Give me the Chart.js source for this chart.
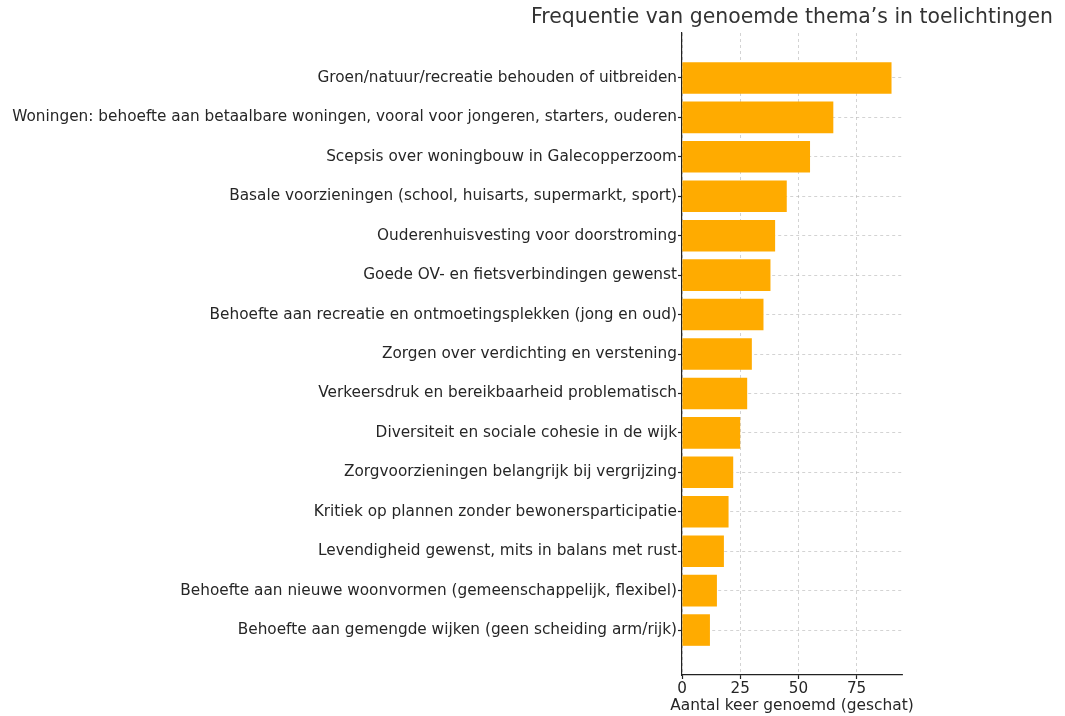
<!DOCTYPE html>
<html>
<head>
<meta charset="utf-8">
<script src="https://cdn.jsdelivr.net/npm/chart.js@4"></script>
<style>
  html, body { margin: 0; padding: 0; background: #fff; }
  #c { display: block; }
</style>
</head>
<body>
<canvas id="c" width="1065" height="716"></canvas>
<script>
// Thema's uit de toelichtingen, geschat aantal keer genoemd
const themas = [
  "Groen/natuur/recreatie behouden of uitbreiden",
  "Woningen: behoefte aan betaalbare woningen, vooral voor jongeren, starters, ouderen",
  "Scepsis over woningbouw in Galecopperzoom",
  "Basale voorzieningen (school, huisarts, supermarkt, sport)",
  "Ouderenhuisvesting voor doorstroming",
  "Goede OV- en fietsverbindingen gewenst",
  "Behoefte aan recreatie en ontmoetingsplekken (jong en oud)",
  "Zorgen over verdichting en verstening",
  "Verkeersdruk en bereikbaarheid problematisch",
  "Diversiteit en sociale cohesie in de wijk",
  "Zorgvoorzieningen belangrijk bij vergrijzing",
  "Kritiek op plannen zonder bewonersparticipatie",
  "Levendigheid gewenst, mits in balans met rust",
  "Behoefte aan nieuwe woonvormen (gemeenschappelijk, flexibel)",
  "Behoefte aan gemengde wijken (geen scheiding arm/rijk)",
];
const aantallen = [90, 65, 55, 45, 40, 38, 35, 30, 28, 25, 22, 20, 18, 15, 12];
const xTicks = [0, 25, 50, 75];

const TITEL = "Frequentie van genoemde thema\u2019s in toelichtingen";
const X_TITEL = "Aantal keer genoemd (geschat)";
const ORANJE = "#ffab00";
const TEKST = "#262626";
const GRID = "rgba(176,176,176,0.7)";
const FONT = "'DejaVu Sans', sans-serif";

// titel en x-label gecentreerd op het plotgebied (zoals matplotlib),
// zelf getekend zodat Chart.js de tekst niet samendrukt
const tekstPlugin = {
  id: "teksten",
  afterDraw(chart) {
    const { ctx, chartArea } = chart;
    const midden = (chartArea.left + chartArea.right) / 2;
    ctx.save();
    ctx.textAlign = "center";
    ctx.textBaseline = "middle";
    ctx.font = "20.4px " + FONT;
    ctx.fillStyle = "#333";
    ctx.fillText(TITEL, midden, 18);
    ctx.font = "15.4px " + FONT;
    ctx.fillStyle = TEKST;
    ctx.fillText(X_TITEL, midden, 706);
    ctx.restore();
  },
};

const gridOpts = {
  color: GRID,
  lineWidth: 0.8,
  offset: false,
  tickColor: "#222",
  tickLength: 4,
  tickWidth: 1.2,
  tickBorderDash: [],
};

new Chart(document.getElementById("c"), {
  type: "bar",
  data: {
    datasets: [
      {
        data: aantallen.map((v, i) => ({ x: v, y: i })),
        backgroundColor: ORANJE,
        borderWidth: 0,
        barPercentage: 0.8,
        categoryPercentage: 1.0,
      },
    ],
  },
  plugins: [tekstPlugin],
  options: {
    indexAxis: "y",
    responsive: false,
    animation: false,
    devicePixelRatio: 1,
    layout: { padding: { top: 33, right: 163, left: 0, bottom: 0 } },
    plugins: {
      legend: { display: false },
      tooltip: { enabled: false },
    },
    scales: {
      x: {
        type: "linear",
        offset: false,
        min: 0,
        max: 94.5,
        afterBuildTicks: (s) => { s.ticks = xTicks.map((v) => ({ value: v })); },
        afterFit: (s) => { s.height = 41; },
        ticks: { color: TEKST, font: { family: FONT, size: 15.2 }, padding: 1, maxRotation: 0 },
        grid: gridOpts,
        border: { display: true, color: "#222", width: 1.2, dash: [3, 3] },
      },
      y: {
        type: "linear",
        offset: false,
        reverse: true,
        min: -1.14,
        max: 15.14,
        afterBuildTicks: (s) => { s.ticks = themas.map((_, i) => ({ value: i })); },
        afterFit: (s) => { s.width = 682; },
        ticks: {
          color: TEKST,
          font: { family: FONT, size: 15.3 },
          padding: 1,
          callback: (v) => themas[v] ?? "",
        },
        grid: gridOpts,
        border: { display: true, color: "#222", width: 1.2, dash: [3, 3] },
      },
    },
  },
});
</script>
</body>
</html>
